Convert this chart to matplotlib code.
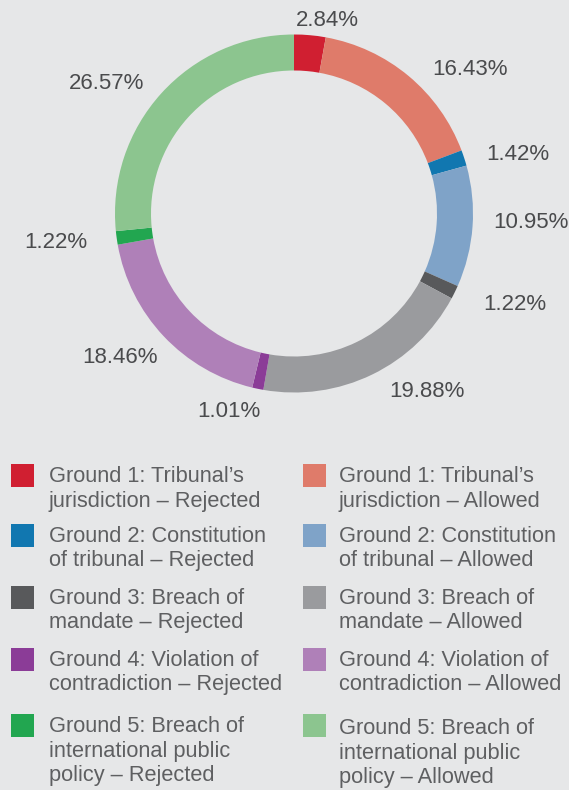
import matplotlib.pyplot as plt
from matplotlib.patches import Rectangle

# share of annulment grounds, in ring order (clockwise from 12 o'clock)
values = [2.84, 16.43, 1.42, 10.95, 1.22, 19.88, 1.01, 18.46, 1.22, 26.57]
labels = [
    "Ground 1: Tribunal\u2019s\njurisdiction \u2013 Rejected",
    "Ground 1: Tribunal\u2019s\njurisdiction \u2013 Allowed",
    "Ground 2: Constitution\nof tribunal \u2013 Rejected",
    "Ground 2: Constitution\nof tribunal \u2013 Allowed",
    "Ground 3: Breach of\nmandate \u2013 Rejected",
    "Ground 3: Breach of\nmandate \u2013 Allowed",
    "Ground 4: Violation of\ncontradiction \u2013 Rejected",
    "Ground 4: Violation of\ncontradiction \u2013 Allowed",
    "Ground 5: Breach of\ninternational public\npolicy \u2013 Rejected",
    "Ground 5: Breach of\ninternational public\npolicy \u2013 Allowed",
]
colors = ["#d01f31", "#df7b6a", "#1177b0", "#7fa3c8", "#58595b",
          "#9a9b9e", "#8b3c97", "#af80b8", "#22a650", "#8cc58f"]

BG = "#e6e7e8"
TXT = "#4a4b4d"
LEG_TXT = "#5e5f61"

# where the percentage labels sit (pixel x, baseline y)
label_pos = [(327, 26), (470, 75), (518, 160), (531, 228), (515, 310),
             (427, 397), (229, 417), (120, 363), (56, 248), (107, 89)]

plt.rcParams['font.family'] = ['Liberation Sans', 'DejaVu Sans']

fig = plt.figure(figsize=(5.69, 7.9), dpi=100, facecolor=BG)
ax = fig.add_axes([0, 0, 1, 1])
ax.set_facecolor(BG)

# y axis runs top-down (pixel style), so startangle -90 is 12 o'clock
# and counterclock=True looks clockwise on screen
ax.pie(values, colors=colors, startangle=-90, counterclock=True,
       radius=179, center=(294, 213.5),
       wedgeprops=dict(width=36, linewidth=0, edgecolor='none'))

for v, (x, y) in zip(values, label_pos):
    ax.text(x, y, f"{v:.2f}%", ha='center', va='baseline',
            fontsize=16, color=TXT)

# legend, two columns: rejected left, allowed right
row_top = [464, 523.5, 585.5, 647.5, 714]
col_sq = [11, 303]
col_txt = [49, 339]
line_h = 24.5
for i, lab in enumerate(labels):
    col, row = i % 2, i // 2
    top = row_top[row]
    ax.add_patch(Rectangle((col_sq[col], top), 23, 23, color=colors[i], lw=0))
    shift = 2 if (row == 4 and col == 1) else 0
    for k, line in enumerate(lab.split("\n")):
        ax.text(col_txt[col], top + 18 + shift + k * line_h, line,
                ha='left', va='baseline', fontsize=15.7, color=LEG_TXT)

ax.set_xlim(0, 569)
ax.set_ylim(790, 0)
ax.set_aspect('equal')
ax.axis('off')

fig.savefig("out.png", dpi=100, facecolor=BG)
